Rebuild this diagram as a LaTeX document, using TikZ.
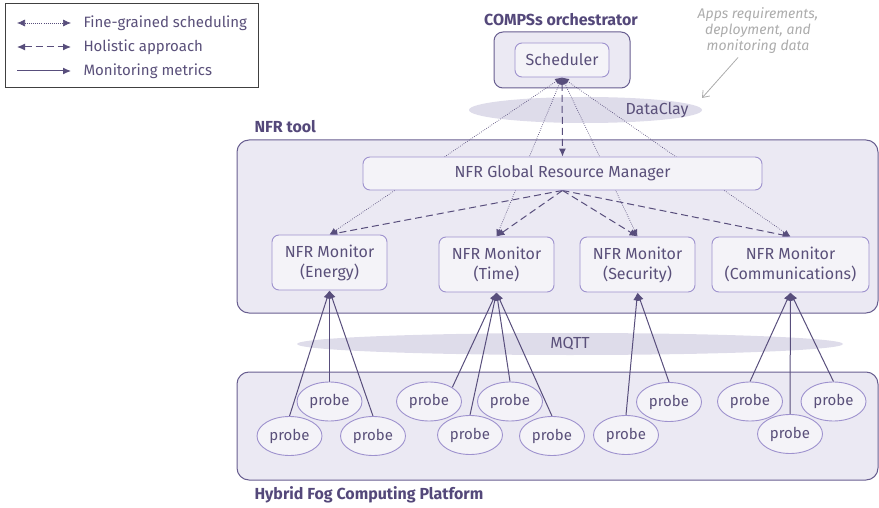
\documentclass[tikz,border=0pt]{standalone}
\usepackage{fontspec}
\setmainfont{Fira Sans}
\usetikzlibrary{arrows.meta,shapes.geometric,backgrounds}
\definecolor{nfrtext}{RGB}{90, 80, 122}
\definecolor{nfrtitle}{RGB}{84, 72, 122}
\definecolor{nfrline}{RGB}{88, 78, 124}
\definecolor{nfrborder}{RGB}{104, 94, 144}
\definecolor{nfrfill}{RGB}{235, 233, 243}
\definecolor{nodefill}{RGB}{244, 243, 248}
\definecolor{nodeborder}{RGB}{158, 146, 206}
\definecolor{busfill}{RGB}{222, 220, 234}
\definecolor{notegray}{RGB}{172, 172, 172}

\begin{document}
\begin{tikzpicture}[
        x=1pt, y=-1pt,
        font=\fontsize{16}{20}\selectfont, text=nfrtext,
        container/.style={draw=nfrborder, line width=1pt, fill=nfrfill, rounded corners=12pt},
        box/.style={rectangle, draw=nodeborder, line width=0.9pt, fill=nodefill, rounded corners=7pt, align=center, inner sep=2pt},
        monitor/.style={box, minimum width=115pt, minimum height=55pt},
        probe/.style={ellipse, draw=nodeborder, line width=0.9pt, fill=nodefill, minimum width=65pt, minimum height=39pt, inner sep=0pt, font=\fontsize{15}{18}\selectfont},
        bus/.style={ellipse, fill=busfill, inner sep=0pt},
        title/.style={font=\fontsize{16}{19}\selectfont\bfseries, text=nfrtitle},
        legendtext/.style={anchor=west, font=\fontsize{15}{18}\selectfont},
        note/.style={align=center, text=notegray, font=\fontsize{14}{16}\selectfont\itshape},
        schedflow/.style={{Latex[length=7pt,width=6pt]}-{Latex[length=7pt,width=6pt]}, draw=nfrline, line width=0.7pt, dash pattern=on 0.7pt off 1.4pt},
        holisticflow/.style={-{Latex[length=8pt,width=7pt]}, draw=nfrline, line width=1pt, dash pattern=on 7pt off 4pt},
        holisticboth/.style={holisticflow, {Latex[length=7pt,width=6pt]}-{Latex[length=8pt,width=7pt]}},
        metricflow/.style={-{Latex[length=8pt,width=7pt]}, draw=nfrline, line width=1pt},
        notearrow/.style={-{Straight Barb[length=6pt,width=9pt]}, draw=notegray, line width=0.8pt}
    ]
    \useasboundingbox (0,0) rectangle (879,508);

    % Legend
    \draw[draw=black!75, line width=0.8pt, fill=white] (5,3) rectangle (258,87);
    \coordinate (fineA) at (17,23);
    \coordinate (fineB) at (71,23);
    \coordinate (holA) at (17,47);
    \coordinate (holB) at (71,47);
    \coordinate (monA) at (17,71);
    \coordinate (monB) at (71,71);
    \draw[schedflow, {Latex[length=8pt,width=7pt]}-{Latex[length=8pt,width=7pt]}] (fineA) -- (fineB);
    \draw[holisticboth, {Latex[length=8pt,width=7pt]}-{Latex[length=8pt,width=7pt]}] (holA) -- (holB);
    \draw[metricflow] (monA) -- (monB);
    \node[legendtext] (finetext) at (80,23) {Fine-grained scheduling};
    \node[legendtext] (holtext) at (80,47) {Holistic approach};
    \node[legendtext] (montext) at (80,71) {Monitoring metrics};

    % COMPSs orchestrator
    \node[title] (compss) at (561,20) {COMPSs orchestrator};
    \node[box, minimum width=94pt, minimum height=34pt] (sched) at (562,60) {Scheduler};

    % Apps data note
    \node[note] (apps) at (758,31) {Apps requirements,\\deployment, and\\monitoring data};
    \coordinate (dcend) at (702,98);

    % NFR tool
    \node[title, anchor=west] (nfrlabel) at (251,127) {NFR tool};
    \node[box, minimum width=399pt, minimum height=33pt] (grm) at (562.5,173.5) {NFR Global Resource Manager};
    \node[monitor] (energy) at (329.5,262.5) {NFR Monitor\\(Energy)};
    \node[monitor] (time) at (496.5,264.5) {NFR Monitor\\(Time)};
    \node[monitor] (security) at (637.5,264.5) {NFR Monitor\\(Security)};
    \node[monitor, minimum width=157pt] (comms) at (790.5,264.5) {NFR Monitor\\(Communications)};

    % Hybrid Fog Computing Platform
    \node[title, anchor=west] (foglabel) at (251,495) {Hybrid Fog Computing Platform};
    \node[probe] (pA) at (329.5,401.5) {probe};
    \node[probe] (pB) at (289.5,436) {probe};
    \node[probe] (pC) at (373,436) {probe};
    \node[probe] (pD) at (429,401.5) {probe};
    \node[probe] (pE) at (510,401.5) {probe};
    \node[probe] (pF) at (470,435) {probe};
    \node[probe] (pG) at (552,436) {probe};
    \node[probe] (pH) at (626,435) {probe};
    \node[probe] (pI) at (669,402) {probe};
    \node[probe] (pJ) at (750,401.5) {probe};
    \node[probe] (pK) at (790,434) {probe};
    \node[probe] (pL) at (833.5,401.5) {probe};

    \begin{scope}[on background layer]
        % Containers and buses
        \draw[container, rounded corners=9pt] (494,32) rectangle (630,88);
        \draw[container] (237,140) rectangle (878,313);
        \draw[container] (237,372) rectangle (878,480);
        \node[bus, minimum width=233pt, minimum height=26pt] (dataclay) at (585.5,110) {};
        \node (dataclaytext) at (657,110) {DataClay};
        \node[bus, minimum width=546pt, minimum height=22pt] (mqtt) at (570,344) {MQTT};

        % Fine-grained scheduling
        \draw[schedflow] (sched.south) -- (energy.north);
        \draw[schedflow] (sched.south) -- (time.north);
        \draw[schedflow] (sched.south) -- (security.north);
        \draw[schedflow] (sched.south) -- (comms.north);

        % Holistic approach
        \draw[holisticboth] (sched.south) -- (grm.north);
        \draw[holisticflow] (grm.south) -- (energy.north);
        \draw[holisticflow] (grm.south) -- (time.north);
        \draw[holisticflow] (grm.south) -- (security.north);
        \draw[holisticflow] (grm.south) -- (comms.north);

        % Monitoring metrics
        \draw[metricflow] (pA.north) -- (energy.south);
        \draw[metricflow] (pB.north) -- (energy.south);
        \draw[metricflow] (pC.north) -- (energy.south);
        \draw[metricflow] (pD.north east) -- (time.south);
        \draw[metricflow] (pE.north) -- (time.south);
        \draw[metricflow] (pF.north) -- (time.south);
        \draw[metricflow] (pG.north) -- (time.south);
        \draw[metricflow] (pH.north) -- (security.south);
        \draw[metricflow] (pI.north) -- (security.south);
        \draw[metricflow] (pJ.north) -- (comms.south);
        \draw[metricflow] (pK.north) -- (comms.south);
        \draw[metricflow] (pL.north) -- (comms.south);
    \end{scope}

    \draw[notearrow] ([xshift=-20pt]apps.south) -- (dcend);
\end{tikzpicture}
\end{document}
